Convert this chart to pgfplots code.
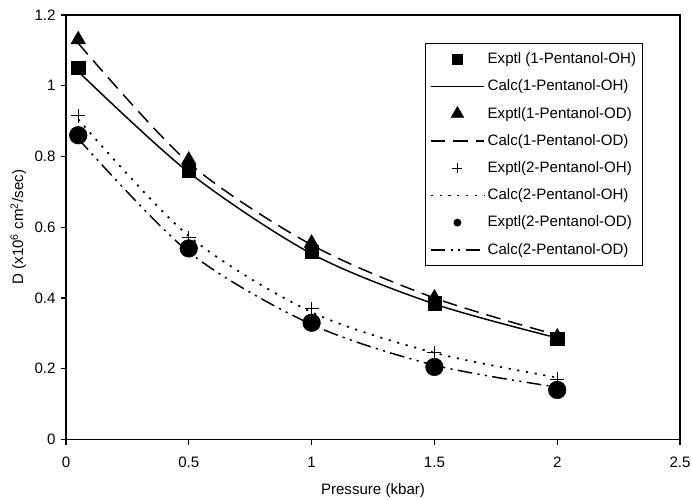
\documentclass[border=0pt]{standalone}
\usepackage{pgfplots}
\pgfplotsset{compat=1.18}
\usepackage{fontspec}
\setmainfont{Liberation Sans}

\begin{document}
\begin{tikzpicture}
\fontsize{11.3}{13.5}\selectfont
\begin{axis}[
  name=main,
  scale only axis,
  width=460pt, height=318pt,
  xmin=0, xmax=2.5, ymin=0, ymax=1.2,
  xtick={0,0.5,...,2.5},
  ytick={0,0.2,...,1.2},
  tick align=outside,
  tick pos=left,
  major tick length=3.8pt,
  axis line style={line width=1pt},
  tick style={line width=1pt,black},
  /pgf/number format/assume math mode=true,
  ticklabel style={font=\fontsize{11.3}{13.5}\selectfont},
  x tick label style={yshift=-5.5pt},
  xlabel={Pressure (kbar)},
  ylabel={D (x10\textsuperscript{6} cm\textsuperscript{2}/sec)},
  label style={font=\fontsize{11.3}{13.5}\selectfont},
  xlabel style={at={(axis description cs:0.5,-0.120)}, anchor=center},
  ylabel style={at={(axis description cs:-0.0774,0.5)}, anchor=center},
  legend cell align=left,
  legend style={at={(0.94,0.934)}, anchor=north east,
    draw=black, line width=0.7pt, font=\fontsize{11.3}{13.5}\selectfont,
    row sep=6.5pt, inner xsep=3pt, inner ysep=5pt},
  legend image code/.code={\draw[#1] plot coordinates {(0pt,0pt) (20pt,0pt) (40pt,0pt)};},
]
% Exptl 1-Pentanol-OH
\addplot[only marks, mark=square*, mark size=4.9pt, black,
  legend image post style={mark size=3.9pt, mark repeat=2, mark phase=2}]
  coordinates {(0.05,1.05) (0.5,0.76) (1,0.53) (1.5,0.385) (2,0.285)};
\addlegendentry{Exptl (1-Pentanol-OH)}
% Calc 1-Pentanol-OH
\addplot[smooth, black, line width=1.1pt]
  coordinates {(0.05,1.04) (0.5,0.755) (1,0.525) (1.5,0.383) (2,0.287)};
\addlegendentry{Calc(1-Pentanol-OH)}
% Exptl 1-Pentanol-OD
\addplot[only marks, mark=triangle*, mark size=6.3pt, black,
  legend image post style={mark size=5.2pt, mark repeat=2, mark phase=2}]
  coordinates {(0.05,1.13) (0.5,0.79) (1,0.555) (1.5,0.40) (2,0.29)};
\addlegendentry{Exptl(1-Pentanol-OD)}
% Calc 1-Pentanol-OD
\addplot[smooth, black, line width=1.1pt, dash pattern=on 11pt off 6pt]
  coordinates {(0.05,1.12) (0.5,0.782) (1,0.55) (1.5,0.40) (2,0.295)};
\addlegendentry{Calc(1-Pentanol-OD)}
% Exptl 2-Pentanol-OH
\addplot[only marks, mark=+, mark size=5.2pt, black, mark options={line width=1pt},
  legend image post style={mark size=3.7pt, mark repeat=2, mark phase=2}]
  coordinates {(0.05,0.915) (0.5,0.57) (1,0.37) (1.5,0.245) (2,0.17)};
\addlegendentry{Exptl(2-Pentanol-OH)}
% Calc 2-Pentanol-OH
\addplot[smooth, black, line width=1.3pt, dash pattern=on 1.6pt off 5pt]
  coordinates {(0.05,0.905) (0.5,0.575) (1,0.36) (1.5,0.245) (2,0.175)};
\addlegendentry{Calc(2-Pentanol-OH)}
% Exptl 2-Pentanol-OD
\addplot[only marks, mark=*, mark size=6.6pt, black,
  legend image post style={mark size=2.6pt, mark repeat=2, mark phase=2}]
  coordinates {(0.05,0.86) (0.5,0.54) (1,0.33) (1.5,0.205) (2,0.14)};
\addlegendentry{Exptl(2-Pentanol-OD)}
% Calc 2-Pentanol-OD
\addplot[smooth, black, line width=1.1pt,
  dash pattern=on 11pt off 4pt on 1.6pt off 4pt on 1.6pt off 4pt]
  coordinates {(0.05,0.85) (0.5,0.53) (1,0.325) (1.5,0.21) (2,0.148)};
\addlegendentry{Calc(2-Pentanol-OD)}
\end{axis}
\pgfresetboundingbox
\useasboundingbox ([shift={(-49.4pt,-44.9pt)}]main.south west) rectangle ([shift={(8.2pt,11.2pt)}]main.north east);
\end{tikzpicture}
\end{document}
